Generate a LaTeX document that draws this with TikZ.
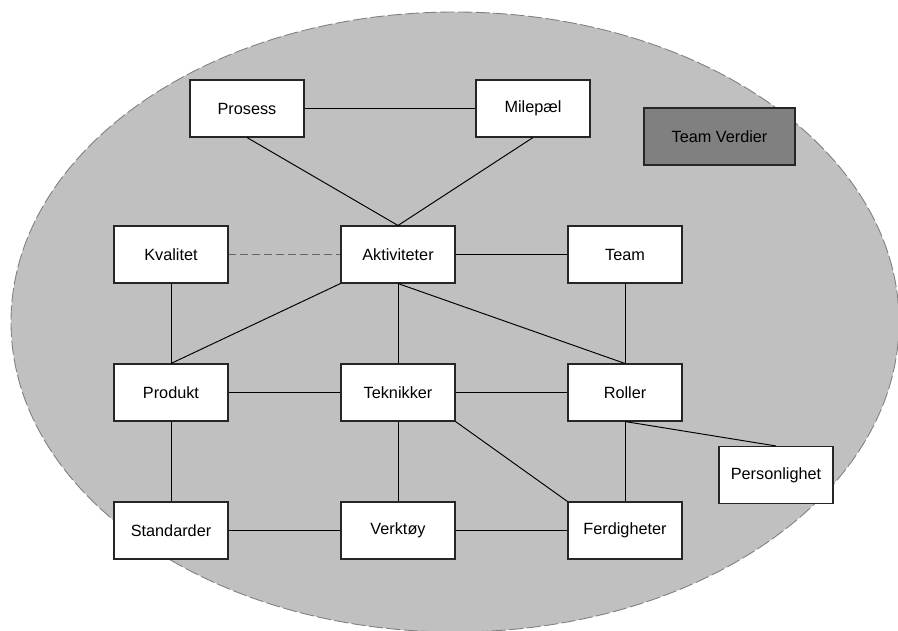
\documentclass[tikz,border=0pt]{standalone}
\usepackage{fontspec}
\setmainfont{Liberation Sans}
\usepackage{tikz}
\usetikzlibrary{positioning, backgrounds}
\definecolor{bggray}{HTML}{C0C0C0}
\definecolor{boxgray}{HTML}{808080}
\definecolor{linkgray}{HTML}{666666}
\tikzset{box/.style={draw=black!85, fill=white, line width=0.6pt, minimum width=2.28cm, minimum height=1.14cm, inner sep=0pt, font=\fontsize{9.25}{11}\selectfont}}

\begin{document}
\begin{tikzpicture}[line width=0.55pt]

            \clip (0,0) rectangle (17.96,12.6);
            \useasboundingbox (0,0) rectangle (17.96,12.6);
            \draw[fill=bggray, draw=gray, dashed, line width=0.5pt, dash pattern=on 8pt off 2pt] (9.1,6.16) ellipse (8.88cm and 6.2cm);

            \node[box] (A1) at (4.94,10.43) {Prosess};
            \node[box] (A2) at (10.66,10.43) {Milepæl};
            \node[box, fill=boxgray, minimum width=3.02cm] (A3) at (14.39,9.87) {Team Verdier};
            \node[box] (B1) at (3.42,7.51) {Kvalitet};
            \node[box] (B2) at (7.96,7.51) {Aktiviteter};
            \node[box] (B3) at (12.5,7.51) {Team};
            \node[box] (C1) at (3.42,4.75) {Produkt};
            \node[box] (C2) at (7.96,4.75) {Teknikker};
            \node[box] (C3) at (12.5,4.75) {Roller};
            \node[box] (C4) at (15.52,3.10) {Personlighet};
            \node[box] (D1) at (3.42,1.99) {Standarder};
            \node[box] (D2) at (7.96,1.99) {Verktøy};
            \node[box] (D3) at (12.5,1.99) {Ferdigheter};

            \draw (A1)--(A2);
            \draw (A1.south)--(B2.north);
            \draw (A2.south)--(B2.north);
            \draw[draw=linkgray, line width=1.1pt, dash pattern=on 4.5pt off 2.3pt] (B1)--(B2);
            \draw (B2)--(B3);
            \draw (B1)--(C1);
            \draw (B2.south west)--(C1.north);
            \draw (B2)--(C2);
            \draw (B2.south)--(C3.north);
            \draw (B3)--(C3);
            \draw (C1)--(C2);
            \draw (C2)--(C3);
            \draw (C3.south)--(C4.north);
            \draw (C1)--(D1);
            \draw (C2)--(D2);
            \draw (C2.south east)--(D3.north west);
            \draw (C3)--(D3);
            \draw (D1)--(D2);
            \draw (D2)--(D3);
            \end{tikzpicture}
\end{document}
